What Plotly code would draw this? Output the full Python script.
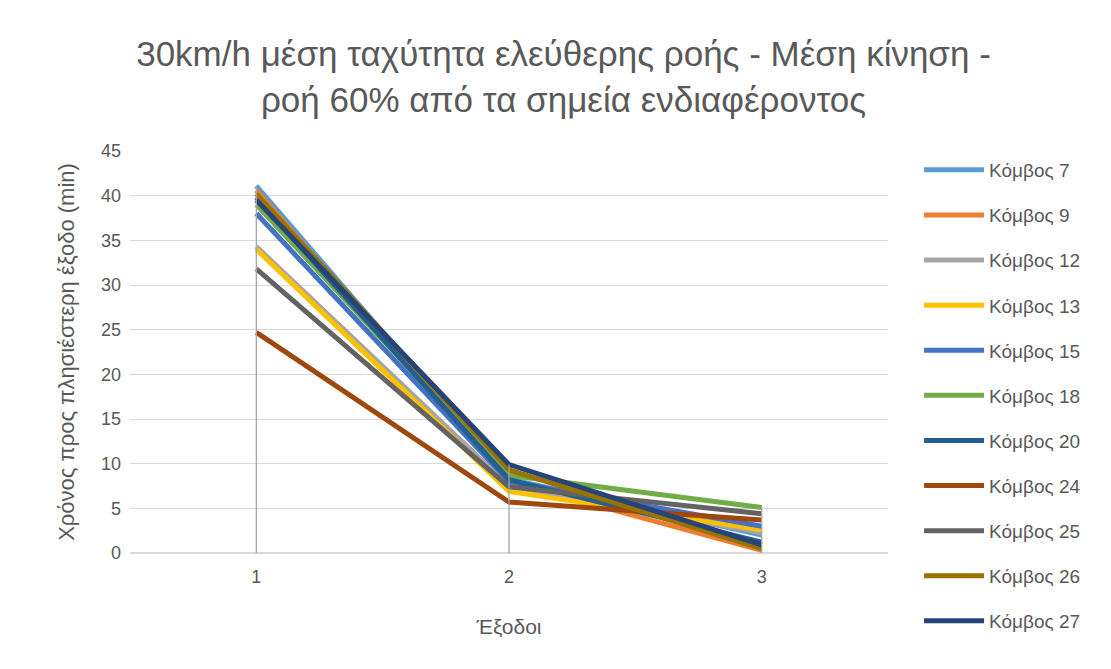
import plotly.graph_objects as go

categories = [1, 2, 3]
series_names = ["Κόμβος 7", "Κόμβος 9", "Κόμβος 12", "Κόμβος 13", "Κόμβος 15", "Κόμβος 18",
                "Κόμβος 20", "Κόμβος 24", "Κόμβος 25", "Κόμβος 26", "Κόμβος 27"]
k7 = [41.1, 8.3, 2.0]
k9 = [40.6, 8.0, 0.3]
k12 = [34.3, 7.5, 2.3]
k13 = [34.0, 6.9, 2.6]
k15 = [38.0, 8.0, 3.0]
k18 = [39.0, 8.7, 5.1]
k20 = [39.8, 8.2, 1.2]
k24 = [24.7, 5.7, 3.7]
k25 = [31.8, 7.4, 4.4]
k26 = [40.2, 9.3, 0.5]
k27 = [39.5, 9.9, 0.9]
all_values = [k7, k9, k12, k13, k15, k18, k20, k24, k25, k26, k27]
colors = ["#5B9BD5", "#ED7D31", "#A5A5A5", "#FFC000", "#4472C4", "#70AD47",
          "#255E91", "#9E480E", "#636363", "#997300", "#264478"]

fig = go.Figure()
for name, vals, col in zip(series_names, all_values, colors):
    fig.add_trace(go.Scatter(x=categories, y=vals, mode="lines", name=name,
                             legendgroup=name,
                             line=dict(color=col, width=5)))

# drop lines from max to axis at each category
maxes = [max(v[i] for v in all_values) for i in range(len(categories))]
dx, dy = [], []
for c, m in zip(categories, maxes):
    dx += [c, c, None]
    dy += [0, m, None]
fig.add_trace(go.Scatter(x=dx, y=dy, mode="lines", showlegend=False, hoverinfo="skip",
                         line=dict(color="#A5A5A5", width=1.3)))

font_family = "Liberation Sans, Arial, sans-serif"
fig.update_layout(
    width=1111, height=669,
    paper_bgcolor="white", plot_bgcolor="white",
    margin=dict(l=122, r=231, t=143, b=124),
    title=dict(text="30km/h μέση ταχύτητα ελεύθερης ροής - Μέση κίνηση -<br>ροή 60% από τα σημεία ενδιαφέροντος",
               x=0.5, xanchor="center", xref="container", yref="container", y=0.913, yanchor="middle",
               font=dict(family=font_family, size=35, color="#595959")),
    font=dict(family=font_family, color="#595959", size=18),
    xaxis=dict(range=[0.5, 3.5], tickvals=categories, ticktext=[str(c) for c in categories],
               showgrid=False, zeroline=False, showline=False, ticks="",
               ticklabelstandoff=11,
               tickfont=dict(size=18, color="#595959"),
               title=dict(text="Έξοδοι", font=dict(size=21, color="#595959"), standoff=33)),
    yaxis=dict(range=[0, 45], dtick=5, showgrid=True, gridcolor="#D9D9D9", gridwidth=1,
               zeroline=True, zerolinecolor="#D9D9D9", showline=False, ticks="",
               ticklabelstandoff=8,
               tickfont=dict(size=18, color="#595959"),
               title=dict(text="Χρόνος προς πλησιέστερη έξοδο (min)", font=dict(size=22, color="#595959"),
                          standoff=20)),
    legend=dict(x=1.041, xanchor="left", y=1.0, yanchor="top",
                font=dict(size=19, color="#595959"), tracegroupgap=17.4,
                itemwidth=60, bgcolor="rgba(0,0,0,0)", maxheight=640),
)

fig.write_html("out.html")
